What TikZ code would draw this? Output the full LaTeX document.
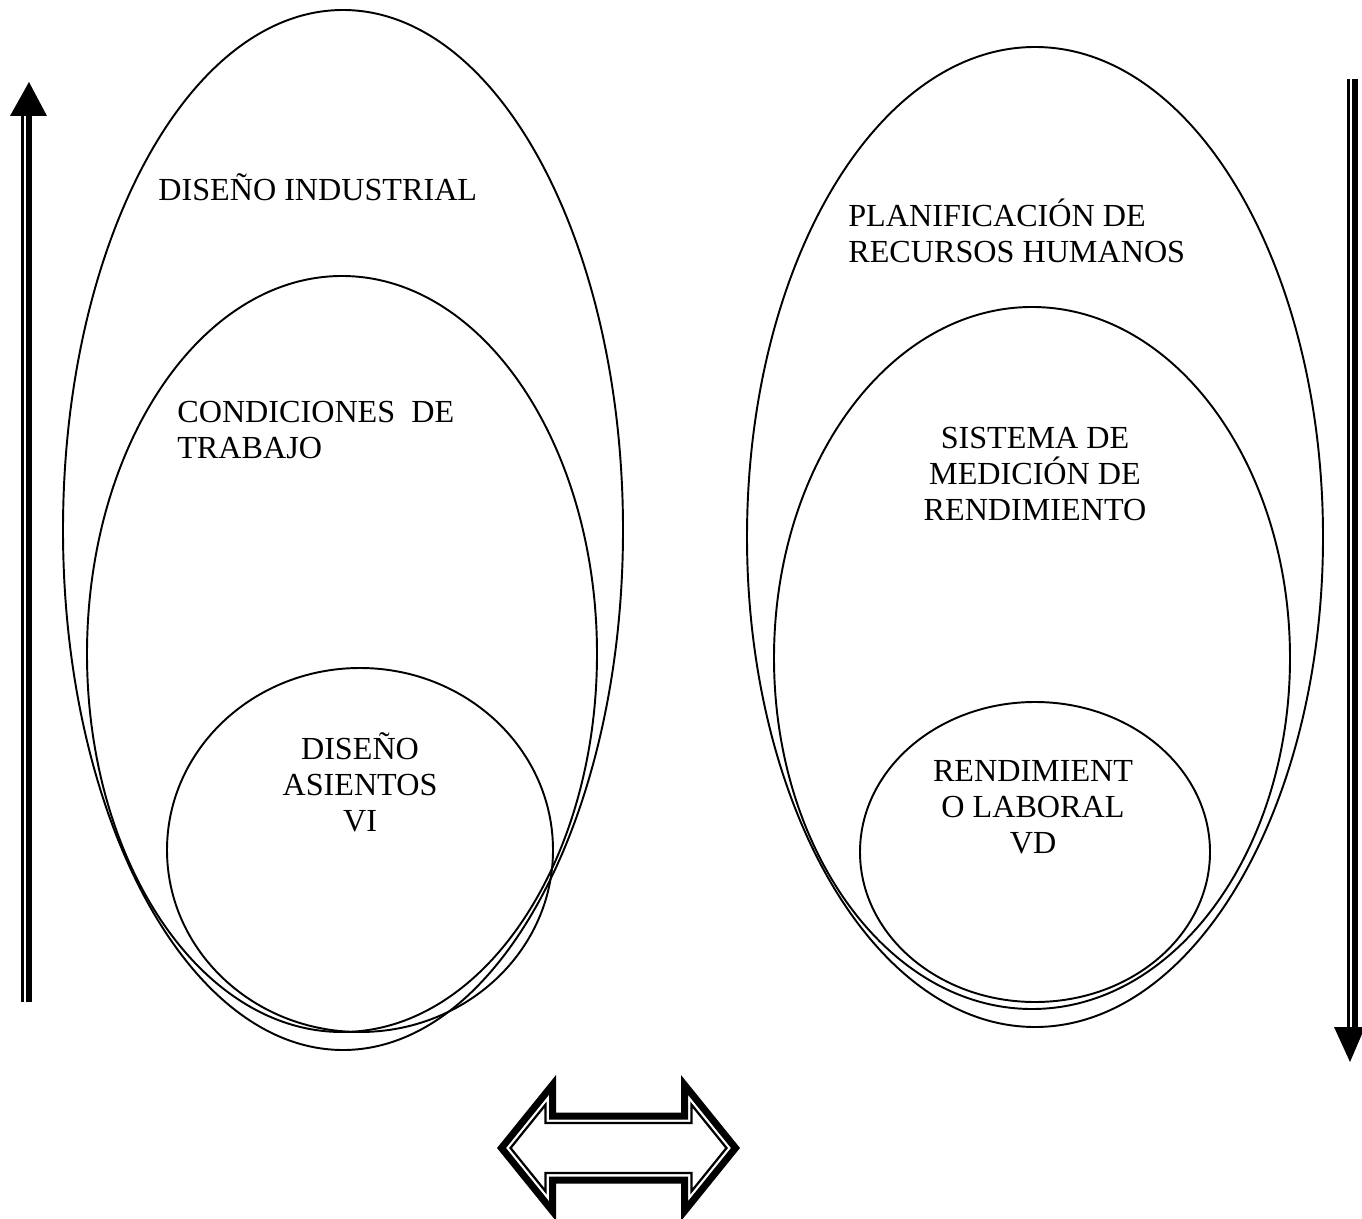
\documentclass[tikz,border=0pt]{standalone}
\usepackage{fontspec}
\setmainfont{Liberation Serif}
\begin{document}
\begin{tikzpicture}[x=0.02cm,y=-0.02cm,
  outline/.style={line width=1.1pt},
  lbl/.style={font=\fontsize{18.3}{20.6}\selectfont, inner sep=0pt},
  thickbar/.style={line width=0.13cm},
  thinbar/.style={line width=0.045cm},
  hollow outer/.style={line width=0.14cm, line join=miter},
  hollow inner/.style={line width=0.045cm, line join=miter}]
\useasboundingbox (0,0) rectangle (1362,1219);
\clip (0,0) rectangle (1362,1219);

% left group: nested ovals
\draw[outline] (343,530) ellipse [x radius=280, y radius=520];
\draw[outline] (342,654) ellipse [x radius=255, y radius=378];
\draw[outline] (360,850) ellipse [x radius=193, y radius=182];

% right group: nested ovals
\draw[outline] (1035,537) ellipse [x radius=288, y radius=490];
\draw[outline] (1032,658) ellipse [x radius=258, y radius=351];
\draw[outline] (1035,852) ellipse [x radius=175, y radius=150];

% labels
\node[lbl, anchor=base west] (ind) at (158,201) {DISEÑO INDUSTRIAL};
\node[lbl, anchor=west, align=left] (cond) at (177,430) {CONDICIONES\ \ DE\\TRABAJO};
\node[lbl, align=center] (asi) at (360,782) {DISEÑO\\ASIENTOS\\VI};
\node[lbl, anchor=west, align=left] (plan) at (848,231) {PLANIFICACIÓN DE\\RECURSOS HUMANOS};
\node[lbl, align=center] (sis) at (1035,474) {SISTEMA DE\\MEDICIÓN DE\\RENDIMIENTO};
\node[lbl, align=center] (ren) at (1033,807) {RENDIMIENT\\O LABORAL\\VD};

% upward arrow on the left
\coordinate (upTail) at (29,1002);
\coordinate (upHead) at (29,116);
\draw[thickbar] (upTail) -- (upHead);
\draw[thinbar] ([xshift=-0.13cm]upTail) -- ([xshift=-0.13cm]upHead);
\fill ([xshift=-0.38cm]upHead) -- ([xshift=0.36cm]upHead) -- ([yshift=0.68cm]upHead) -- cycle;

% downward arrow on the right
\coordinate (dnTail) at (1355,79);
\coordinate (dnHead) at (1355,1027);
\draw[thickbar] (dnTail) -- (dnHead);
\draw[thinbar] ([xshift=-0.13cm]dnTail) -- ([xshift=-0.13cm]dnHead);
\fill ([xshift=-0.42cm]dnHead) -- ([xshift=0.2cm]dnHead) -- ([xshift=-0.1cm,yshift=-0.7cm]dnHead) -- cycle;

% hollow double-headed arrow
\begin{scope}[shift={(618.5,1148)}]
  \draw[hollow outer] (-117,0) -- (-66,-63.1) -- (-66,-32) -- (66,-32) -- (66,-63.1)
    -- (117,0) -- (66,63.1) -- (66,32) -- (-66,32) -- (-66,63.1) -- cycle;
  \draw[hollow inner] (-108,0) -- (-73,-43.3) -- (-73,-25) -- (73,-25) -- (73,-43.3)
    -- (108,0) -- (73,43.3) -- (73,25) -- (-73,25) -- (-73,43.3) -- cycle;
\end{scope}
\end{tikzpicture}
\end{document}
